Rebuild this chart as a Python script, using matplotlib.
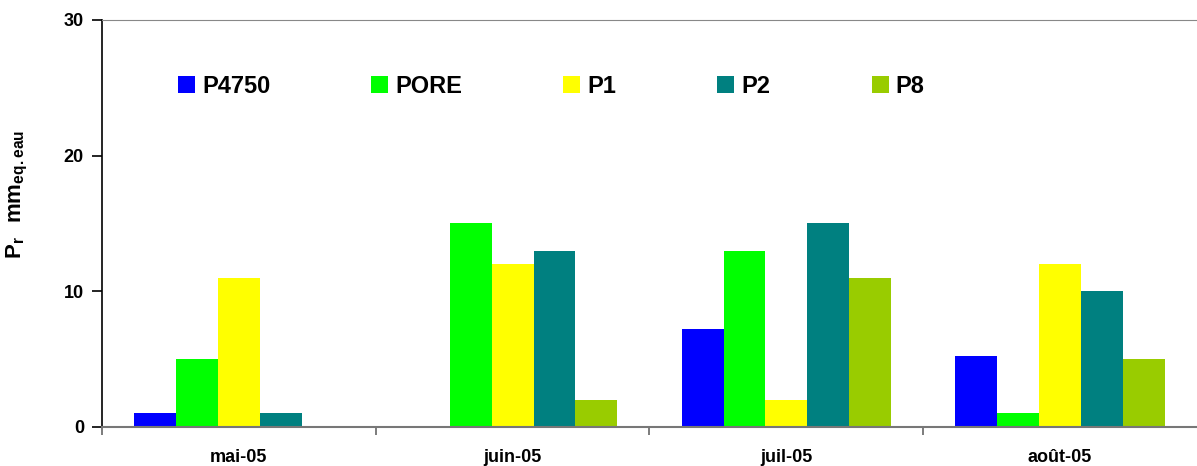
import numpy as np
import matplotlib
matplotlib.use('Agg')
import matplotlib.pyplot as plt
from matplotlib.ticker import FixedLocator

plt.rcParams['font.family'] = ['Liberation Sans', 'DejaVu Sans']
plt.rcParams['mathtext.fontset'] = 'custom'
plt.rcParams['mathtext.rm'] = 'Liberation Sans'
plt.rcParams['mathtext.bf'] = 'Liberation Sans:bold'

months = ['mai-05', 'juin-05', 'juil-05', 'août-05']
series = ['P4750', 'PORE', 'P1', 'P2', 'P8']
colors = ['#0000ff', '#00ff00', '#ffff00', '#008080', '#99cc00']

p4750 = [1, 0, 7.2, 5.2]
pore = [5, 15, 13, 1]
p1 = [11, 12, 2, 12]
p2 = [1, 13, 15, 10]
p8 = [0, 2, 11, 5]
values = [p4750, pore, p1, p2, p8]

fig = plt.figure(figsize=(11.97, 4.66), dpi=100)
ax = fig.add_axes([0.0852, 0.0837, 0.9148, 0.8734])

x = np.arange(len(months))
width = 0.153
for i, (name, vals, col) in enumerate(zip(series, values, colors)):
    ax.bar(x + (i - 2) * width, vals, width, color=col, label=name, linewidth=0)

ax.set_xlim(-0.5, 3.5)
ax.set_ylim(0, 30)
ax.set_yticks([0, 10, 20, 30])
ax.set_yticklabels(['0', '10', '20', '30'], fontsize=13, fontweight='bold')

ax.set_xticks(x)
ax.set_xticklabels(months, fontsize=13, fontweight='bold')
ax.tick_params(axis='x', which='major', length=0, pad=16)
ax.xaxis.set_minor_locator(FixedLocator([-0.5, 0.5, 1.5, 2.5]))
ax.tick_params(axis='x', which='minor', length=6, color='#666666', width=1.2)
ax.tick_params(axis='y', length=7, width=1.2, color='black', pad=6)

ax.spines['left'].set_color('black')
ax.spines['left'].set_linewidth(1.2)
ax.spines['bottom'].set_color('#777777')
ax.spines['bottom'].set_linewidth(1.5)
ax.spines['top'].set_color('#888888')
ax.spines['right'].set_visible(False)

ax.set_ylabel(r'$\mathbf{P_r\ \ mm_{eq.eau}}$', fontsize=16)
ax.yaxis.set_label_coords(-0.066, 0.572)

leg = ax.legend(ncol=5, loc='upper left', bbox_to_anchor=(0.0694, 0.866),
                frameon=False, prop={'weight': 'bold', 'size': 17},
                borderpad=0, borderaxespad=0,
                handlelength=0.72, handleheight=0.72, handletextpad=0.3,
                columnspacing=4.28)

fig.savefig('out.png', dpi=100)
